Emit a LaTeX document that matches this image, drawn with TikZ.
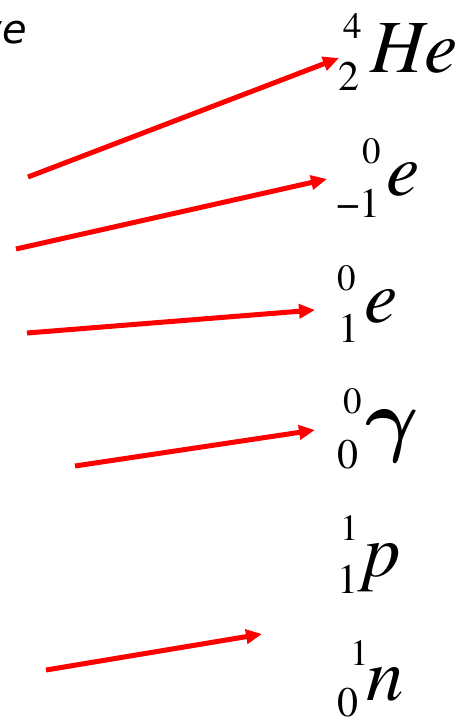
\documentclass[tikz,border=0pt]{standalone}
\usepackage{fix-cm}
\usepackage{fontspec}
\newfontfamily\nucfont{texgyretermes}[Extension=.otf, UprightFont=*-regular, ItalicFont=*-italic]
\newfontfamily\labelfont{DejaVu Sans Oblique}
\usetikzlibrary{arrows.meta}

\begin{document}
\begin{tikzpicture}[x=1pt, y=-1pt, every node/.style={inner sep=0pt, anchor=base west},
  up/.style={font=\nucfont\fontsize{37}{37}\selectfont},
  down/.style={font=\nucfont\fontsize{42}{42}\selectfont},
  sym/.style={font=\nucfont\fontsize{75}{75}\selectfont\itshape},
  ray/.style={draw=red, line width=5pt, -{Triangle[length=16pt, width=14pt]}}]
\useasboundingbox (0,0) rectangle (462,720);
\node[anchor=base east, font=\labelfont\fontsize{40}{40}\selectfont] (cut) at (27,43) {ve};
% alpha
\node[up] (heA) at (343,38) {4};
\node[down] (heZ) at (338,90) {2};
\node[sym] (he) at (370,72) {He};
% beta minus
\node[up] (emA) at (362,163) {0};
\node[down] (emZ) at (336,217) {−1};
\node[sym] (em) at (386,195) {e};
% beta plus
\node[up] (epA) at (337,290) {0};
\node[down] (epZ) at (338,342) {1};
\node[sym] (ep) at (364,322) {e};
% gamma
\node[up] (gaA) at (343,413) {0};
\node[down] (gaZ) at (337,468) {0};
\node[sym, font=\fontsize{82}{82}\selectfont\boldmath] (ga) at (365,446) {$\gamma$};
% proton
\node[up] (prA) at (340,540) {1};
\node[down] (prZ) at (337,593) {1};
\node[sym] (pr) at (363,576) {p};
% neutron
\node[up] (neA) at (350,665) {1};
\node[down] (neZ) at (337,716) {0};
\node[sym] (ne) at (366,700) {n};
% arrows
\coordinate (t1) at (28,177); \coordinate (h1) at (339,58);
\coordinate (t2) at (16,249); \coordinate (h2) at (327,179);
\coordinate (t3) at (27,333); \coordinate (h3) at (315,310);
\coordinate (t4) at (75,466); \coordinate (h4) at (315,430);
\coordinate (t5) at (46,670); \coordinate (h5) at (262,634);
\foreach \i in {1,...,5}
  \draw[ray] (t\i) -- (h\i);
\end{tikzpicture}
\end{document}
